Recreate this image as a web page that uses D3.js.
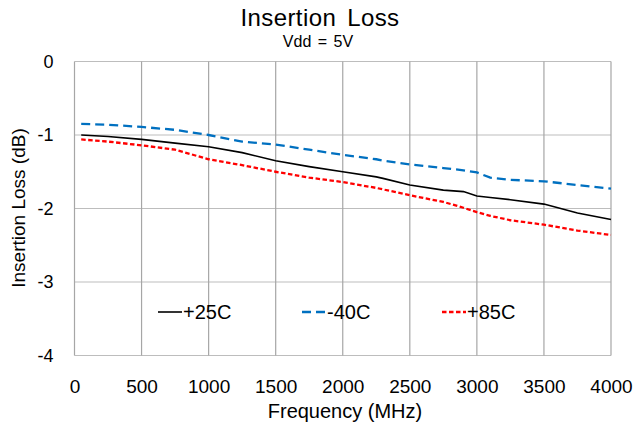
<!DOCTYPE html>
<html><head><meta charset="utf-8">
<script src="https://cdn.jsdelivr.net/npm/d3@7"></script>
<style>body{margin:0;background:#fff}svg{display:block;font-family:"Liberation Sans",Arial,sans-serif}</style>
</head><body><svg id="c" width="636" height="425"></svg>
<script>
const freq = [50,250,500,750,1000,1250,1500,1750,2000,2250,2300,2500,2750,2900,3000,3100,3250,3500,3750,4000];
const t25  = [-1.00,-1.02,-1.06,-1.11,-1.16,-1.24,-1.35,-1.43,-1.50,-1.57,-1.59,-1.68,-1.75,-1.77,-1.83,-1.85,-1.88,-1.94,-2.06,-2.15];
const tm40 = [-0.85,-0.86,-0.89,-0.93,-1.00,-1.09,-1.13,-1.20,-1.27,-1.33,-1.35,-1.40,-1.45,-1.48,-1.51,-1.58,-1.61,-1.63,-1.68,-1.73];
const t85  = [-1.06,-1.09,-1.14,-1.20,-1.33,-1.41,-1.50,-1.58,-1.64,-1.72,-1.74,-1.82,-1.91,-1.99,-2.05,-2.10,-2.16,-2.22,-2.30,-2.36];
const xTicks = [0,500,1000,1500,2000,2500,3000,3500,4000];
const yTicks = [0,-1,-2,-3,-4];
const yTickLabels = ["0","-1","-2","-3","-4"];
const seriesNames = ["+25C","-40C","+85C"];
const seriesColors = ["#000000","#0070c0","#ff0000"];
const seriesDash = [null,"9,5","4.5,2.5"];

const svg = d3.select("#c");
const L=74.5, R=611, T=61.5, B=355.5;
const x = d3.scaleLinear().domain([0,4000]).range([L,R]);
const y = d3.scaleLinear().domain([-4,0]).range([B,T]);

// grid
svg.append("g").selectAll("line").data(yTicks).join("line")
  .attr("x1",L).attr("x2",R).attr("y1",d=>y(d)).attr("y2",d=>y(d))
  .attr("stroke","#bdbdbd").attr("stroke-width",1.2);
svg.append("g").selectAll("line").data(xTicks).join("line")
  .attr("y1",T).attr("y2",B).attr("x1",d=>x(d)).attr("x2",d=>x(d))
  .attr("stroke","#a6a6a6").attr("stroke-width",1.2);

// axes labels
const xa = svg.append("g").attr("transform",`translate(0,${B})`)
  .call(d3.axisBottom(x).tickValues(xTicks).tickSize(0).tickPadding(24).tickFormat(d=>String(d)));
xa.select(".domain").remove();
xa.selectAll("text").attr("font-size",19).attr("fill","#000").attr("font-family","Liberation Sans, Arial, sans-serif");
const ya = svg.append("g").attr("transform",`translate(${L},0)`)
  .call(d3.axisLeft(y).tickValues(yTicks).tickSize(0).tickPadding(21).tickFormat((d,i)=>yTickLabels[i]));
ya.select(".domain").remove();
ya.selectAll("text").attr("font-size",18).attr("fill","#000").attr("font-family","Liberation Sans, Arial, sans-serif");

// lines
const data = [t25,tm40,t85];
const line = d3.line().x((d,i)=>x(freq[i])).y(d=>y(d));
data.forEach((s,k)=>{
  svg.append("path").datum(s).attr("d",line).attr("fill","none")
    .attr("stroke",seriesColors[k]).attr("stroke-width",k===0?1.6:2.3)
    .attr("stroke-dasharray",seriesDash[k]);
});

// titles
svg.append("text").attr("x",320).attr("y",26).attr("text-anchor","middle").attr("font-size",24)
  .attr("letter-spacing",0.4).attr("word-spacing",4).text("Insertion Loss");
svg.append("text").attr("x",318).attr("y",47).attr("text-anchor","middle").attr("font-size",16)
  .attr("word-spacing",2).text("Vdd = 5V");
svg.append("text").attr("x",345).attr("y",418).attr("text-anchor","middle").attr("font-size",20).text("Frequency (MHz)");
svg.append("text").attr("transform","translate(25,208) rotate(-90)").attr("text-anchor","middle").attr("font-size",19).text("Insertion Loss (dB)");

// legend
const legX = [158,302,442];
seriesNames.forEach((n,k)=>{
  svg.append("line").attr("x1",legX[k]).attr("x2",legX[k]+24).attr("y1",312).attr("y2",312)
    .attr("stroke",seriesColors[k]).attr("stroke-width",k===0?1.6:2.3).attr("stroke-dasharray",seriesDash[k]);
  svg.append("text").attr("x",legX[k]+25).attr("y",319).attr("font-size",20).text(n);
});
</script></body></html>
